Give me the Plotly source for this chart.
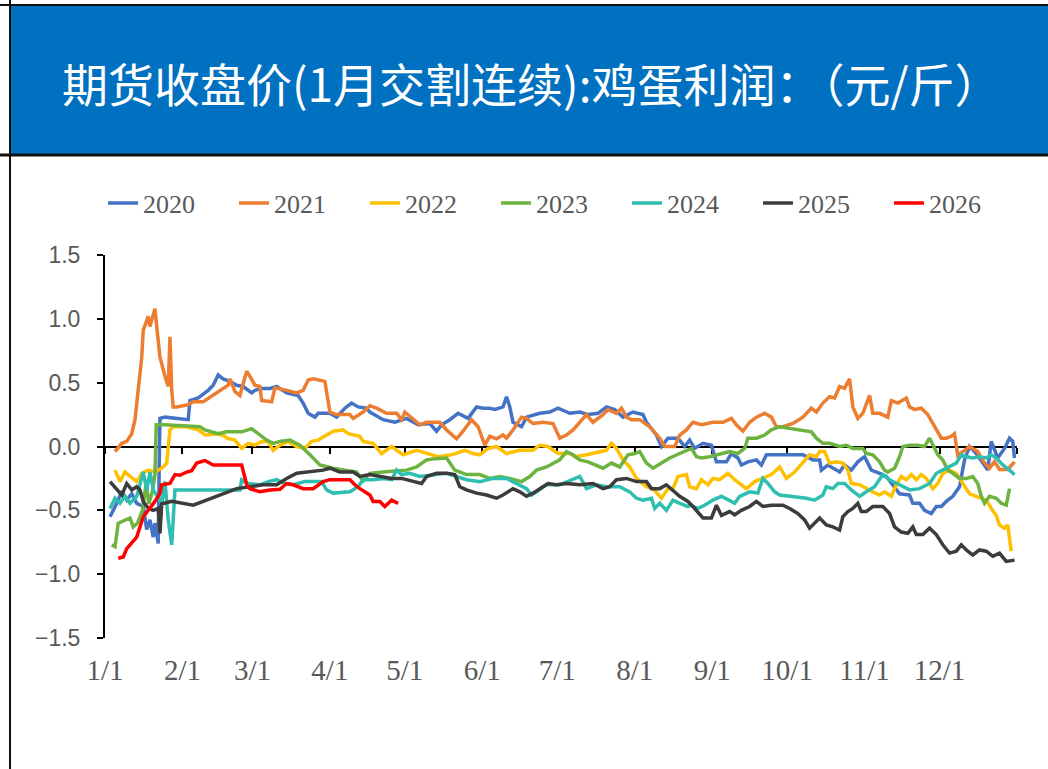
import plotly.graph_objects as go

# ---------------- data (day of year, profit 元/斤) ----------------
years = ["2020", "2021", "2022", "2023", "2024", "2025", "2026"]
colors = ["#4472C4", "#ED7D31", "#FFC000", "#6DB33F", "#2FBFB1", "#3C3C3C", "#FF0000"]

month_ticks = [0, 31, 59, 90, 120, 151, 181, 212, 243, 273, 304, 334]
month_labels = ["1/1", "2/1", "3/1", "4/1", "5/1", "6/1", "7/1", "8/1", "9/1", "10/1", "11/1", "12/1"]
y_ticks = [1.5, 1.0, 0.5, 0.0, -0.5, -1.0, -1.5]

s2020 = [(2,-0.55),(4.7,-0.445),(6.7,-0.35),(8.7,-0.42),(10.7,-0.37),(12.7,-0.445),(15.3,-0.47),(16.7,-0.65),
         (18,-0.575),(19.3,-0.71),(20,-0.60),(21.3,-0.76),(21.8,0.0),(22,0.22),(24,0.23),(33.3,0.21),(34,0.36),
         (37.3,0.38),(41.3,0.44),(43.3,0.48),(45.3,0.56),(47.3,0.53),(50,0.51),(52.7,0.48),(55.3,0.47),(58.7,0.42),
         (60,0.44),(62.7,0.455),(66,0.455),(68.7,0.47),(72.7,0.42),(77.3,0.40),(79.3,0.34),(81.3,0.26),(84,0.23),
         (85.3,0.26),(90,0.26),(92.7,0.23),(96,0.30),(98.7,0.34),(101.3,0.31),(104.7,0.30),(106,0.27),(111.3,0.21),
         (116,0.19),(120.7,0.22),(125.3,0.17),(130,0.18),(132.7,0.12),(134.7,0.17),(138,0.21),(141.3,0.26),
         (145.3,0.22),(148.7,0.31),(151.3,0.30),(154,0.30),(156,0.29),(159.3,0.31),(160.7,0.39),(162,0.31),
         (163.3,0.19),(166.7,0.155),(168.7,0.23),(174,0.26),(178,0.27),(181.3,0.30),(186,0.26),(190,0.27),
         (193.3,0.25),(197.3,0.26),(200.7,0.31),(204,0.29),(207.3,0.23),(211.3,0.27),(215.3,0.25),(216.7,0.19),
         (220.7,0.09),(222.7,0.0),(225.3,0.065),(229.3,0.065),(232,0.0),(234,0.05),(236,-0.015),(239.3,0.025),
         (242.7,0.01),(244.7,-0.12),(248.7,-0.12),(250.7,-0.055),(253.3,-0.09),(254.7,-0.145),(257.3,-0.12),
         (260.7,-0.105),(262.7,-0.145),(264.7,-0.065),(268,-0.065),(272.7,-0.065),(279.3,-0.065),(283.3,-0.105),
         (286,-0.105),(286.7,-0.185),(289.3,-0.145),(294,-0.20),(296,-0.145),(298.7,-0.185),(301.3,-0.12),
         (304,-0.08),(306.7,-0.185),(310,-0.21),(312.7,-0.235),(315.3,-0.30),(318,-0.37),(322,-0.38),(323.3,-0.445),
         (326,-0.445),(328,-0.50),(330.7,-0.525),(332.7,-0.47),(334.7,-0.47),(336.7,-0.43),(339.3,-0.39),
         (342,-0.315),(344,-0.105),(346,0.0),(348.7,-0.055),(353.3,-0.185),(354.7,0.04),(357.3,-0.09),
         (360,-0.015),(362,0.065),(363.3,0.04),(364,-0.09)]

s2021 = [(4,-0.04),(6.7,0.025),(8.7,0.04),(10.7,0.10),(12,0.21),(13.3,0.44),(14.7,0.70),(15.3,0.91),(17.3,1.02),
         (18,0.94),(19.3,1.04),(20,1.08),(20.7,0.94),(22,0.70),(24,0.55),(25.3,0.47),(26,0.86),(26.7,0.44),
         (27.3,0.31),(28.7,0.31),(32.7,0.325),(35.3,0.35),(39.3,0.35),(44.7,0.42),(49.3,0.48),(50,0.53),(52,0.43),
         (54,0.40),(55.3,0.50),(56.7,0.59),(58,0.55),(60,0.48),(62,0.47),(62.7,0.36),(66.7,0.35),(68,0.46),
         (72.7,0.44),(76.7,0.42),(79.3,0.44),(81.3,0.52),(83.3,0.53),(88,0.51),(90,0.27),(92.7,0.25),(98,0.25),
         (99.3,0.22),(103.3,0.27),(106,0.32),(108.7,0.30),(112.7,0.26),(116.7,0.26),(118.7,0.21),(120,0.27),
         (126,0.17),(128.7,0.19),(134,0.19),(136.7,0.13),(140.7,0.06),(143.3,0.12),(146.7,0.21),(149.3,0.155),
         (152,0.01),(154,0.08),(156.7,0.06),(159.3,0.09),(160.7,0.065),(163.3,0.13),(166.7,0.23),(168.7,0.22),
         (171.3,0.18),(175.3,0.19),(179.3,0.18),(182,0.065),(184.7,0.09),(187.3,0.13),(190,0.19),(192.7,0.25),
         (195.3,0.19),(199.3,0.25),(201.3,0.29),(204.7,0.26),(206.7,0.30),(208.7,0.23),(210.7,0.21),(214,0.21),
         (218,0.155),(222,0.065),(224,0.0),(228,0.0),(230,0.09),(232.7,0.13),(235.3,0.19),(238.7,0.17),
         (243.3,0.19),(247.3,0.19),(250.7,0.22),(252.7,0.17),(255.3,0.12),(258,0.19),(260.7,0.23),(264,0.26),
         (266.7,0.23),(268.7,0.155),(271.3,0.155),(275.3,0.18),(279.3,0.23),(282.7,0.30),(284.7,0.27),(287.3,0.34),
         (290,0.39),(292,0.38),(294,0.47),(296,0.455),(298,0.53),(299.3,0.31),(301.3,0.22),(303.3,0.26),(306,0.40),
         (307.3,0.26),(310,0.26),(313.3,0.23),(314.7,0.36),(317.3,0.34),(320.7,0.38),(322,0.31),(324,0.29),
         (326.7,0.30),(329.3,0.25),(332,0.155),(334.7,0.065),(336.7,0.065),(338.7,0.08),(340,0.10),(341.3,-0.07),
         (343.3,-0.04),(346,0.0),(349.3,-0.04),(351.3,-0.11),(354,-0.17),(356,-0.12),(358,-0.18),(361.3,-0.18),
         (364,-0.12)]

s2022 = [(4,-0.185),(6,-0.275),(8,-0.20),(10,-0.235),(12.7,-0.275),(14.7,-0.21),(17.3,-0.185),(20,-0.20),
         (22.7,-0.17),(24.7,-0.13),(26,0.13),(27.3,0.155),(32.7,0.155),(37.3,0.13),(40,0.09),(45.3,0.10),(48,0.08),
         (48.7,0.065),(52,0.05),(54.7,-0.015),(57.3,0.025),(60,0.01),(62.7,0.04),(65.3,0.04),(67.3,-0.03),(70,0.01),
         (73.3,0.04),(76.7,0.0),(80,-0.015),(82.7,0.04),(85.3,0.05),(88.7,0.09),(91.3,0.12),(95.3,0.13),(97.3,0.10),
         (102,0.08),(103.3,0.04),(107.3,0.025),(110.7,-0.055),(114.7,0.0),(119.3,-0.065),(124.7,-0.03),
         (128.7,-0.055),(133.3,-0.08),(138.7,-0.065),(144,-0.03),(147.3,-0.055),(150,-0.065),(153.3,-0.015),
         (156.7,0.0),(160.7,-0.055),(166,-0.03),(171.3,-0.03),(174,0.01),(177.3,0.0),(181.3,-0.055),(186,-0.055),
         (188,-0.08),(192.7,-0.065),(198,-0.04),(200.7,-0.03),(202.7,0.025),(204.7,-0.015),(207.3,-0.105),
         (210,-0.16),(212.7,-0.25),(216.7,-0.315),(219.3,-0.33),(222.7,-0.405),(225.3,-0.33),(227.3,-0.33),
         (229.3,-0.235),(232.7,-0.22),(234,-0.315),(236.7,-0.33),(238.7,-0.26),(241.3,-0.30),(243.3,-0.25),
         (246,-0.26),(249.3,-0.21),(252,-0.26),(254.7,-0.30),(256.7,-0.33),(260,-0.275),(263.3,-0.25),
         (266.7,-0.22),(270,-0.16),(272.7,-0.25),(276,-0.20),(279.3,-0.13),(282,-0.065),(284.7,-0.08),(286,-0.04),
         (288,-0.04),(290,-0.13),(292.7,-0.12),(295.3,-0.13),(297.3,-0.185),(298.7,-0.29),(302,-0.30),
         (304.7,-0.33),(307.3,-0.355),(310,-0.38),(312,-0.355),(314.7,-0.39),(316.7,-0.30),(318.7,-0.235),
         (320.7,-0.26),(322.7,-0.22),(324.7,-0.26),(326.7,-0.22),(328.7,-0.25),(331.3,-0.33),(333.3,-0.29),
         (335.3,-0.21),(338,-0.185),(340.7,-0.21),(343.3,-0.29),(346,-0.37),(348.7,-0.39),(350.7,-0.405),
         (352.7,-0.42),(354.7,-0.485),(356.7,-0.54),(358,-0.615),(360,-0.64),(361.3,-0.615),(362.7,-0.82)]

s2023 = [(2.7,-0.77),(4,-0.785),(5.3,-0.60),(8,-0.575),(10,-0.56),(11.3,-0.63),(13,-0.60),(15,-0.50),
         (16.5,-0.28),(17.5,-0.45),(19,-0.35),(20,-0.22),(20.5,0.17),(24,0.17),(38,0.155),(40,0.13),(45.3,0.10),
         (48.7,0.115),(54.7,0.115),(58.7,0.14),(62,0.09),(64.7,0.05),(67.3,0.025),(70,0.04),(74,0.05),(78,0.01),
         (82,-0.065),(86,-0.145),(91.3,-0.17),(96.7,-0.185),(100.7,-0.20),(103.3,-0.27),(106,-0.21),
         (111.3,-0.20),(120.7,-0.185),(124.7,-0.16),(128.7,-0.105),(132,-0.095),(136.7,-0.09),(140,-0.185),
         (144.7,-0.22),(150,-0.22),(154,-0.25),(158,-0.235),(162,-0.25),(166.7,-0.275),(170,-0.235),
         (172.7,-0.185),(176.7,-0.16),(182,-0.105),(184.7,-0.04),(187.3,-0.065),(190,-0.105),(193.3,-0.12),
         (196.7,-0.145),(199.3,-0.17),(202.7,-0.13),(206,-0.16),(209.3,-0.065),(212,-0.055),(214,-0.04),
         (216.7,-0.13),(219.3,-0.17),(222.7,-0.13),(226,-0.09),(230,-0.055),(233.3,-0.03),(234.7,-0.015),
         (236.7,-0.08),(238.7,-0.09),(242,-0.08),(245.3,-0.065),(250,-0.04),(253.3,-0.055),(256,-0.015),
         (257.3,0.065),(260.7,0.065),(264,0.09),(266.7,0.13),(270,0.155),(275.3,0.14),(279.3,0.13),(282.7,0.115),
         (284.7,0.065),(287.3,0.025),(290,0.025),(294,0.0),(296.7,0.01),(299.3,-0.015),(303.3,-0.015),
         (304.7,-0.055),(307.3,-0.065),(310,-0.12),(312,-0.185),(313.3,-0.20),(316,-0.17),(318,-0.08),(319.3,0.0),
         (322,0.01),(325.3,0.01),(328,0.0),(330,0.065),(332,-0.015),(333.3,-0.065),(335.3,-0.105),(337.3,-0.185),
         (339.3,-0.21),(342,-0.25),(344.7,-0.25),(347.3,-0.235),(349.3,-0.29),(350.7,-0.39),(352,-0.445),
         (354,-0.39),(356.7,-0.405),(358.7,-0.445),(360.7,-0.46),(361.3,-0.39),(362,-0.33)]

s2024 = [(2,-0.485),(4,-0.405),(6,-0.445),(8,-0.39),(10,-0.445),(12.7,-0.39),(15.3,-0.20),(16.7,-0.34),(18,-0.20),
         (19.3,-0.34),(22.7,-0.445),(24,-0.275),(25.3,-0.575),(26.7,-0.77),(28,-0.34),(32.7,-0.34),(42,-0.34),
         (54,-0.34),(54.7,-0.26),(57.3,-0.29),(62,-0.30),(65.3,-0.275),(68.7,-0.26),(72,-0.29),(75.3,-0.30),
         (80,-0.275),(86.7,-0.275),(88.7,-0.34),(91.3,-0.365),(98,-0.355),(101.3,-0.315),(103.3,-0.26),
         (107.3,-0.26),(111.3,-0.25),(114.7,-0.26),(116.7,-0.185),(118.7,-0.22),(122,-0.21),(126,-0.235),
         (131.3,-0.22),(136.7,-0.21),(140.7,-0.235),(144.7,-0.26),(150,-0.275),(155.3,-0.25),(160.7,-0.25),
         (164.7,-0.29),(168.7,-0.33),(170.7,-0.38),(174,-0.34),(176.7,-0.30),(182,-0.30),(187.3,-0.26),
         (190,-0.235),(192.7,-0.33),(196.7,-0.30),(200.7,-0.315),(206,-0.315),(210,-0.355),(212.7,-0.405),
         (215.3,-0.42),(218.7,-0.405),(220,-0.485),(222,-0.445),(224.7,-0.50),(227.3,-0.42),(230,-0.445),
         (233.3,-0.47),(234,-0.46),(237.3,-0.485),(240,-0.46),(243.3,-0.42),(246.7,-0.39),(249.3,-0.42),
         (252,-0.445),(254,-0.39),(258,-0.355),(261.3,-0.365),(263.3,-0.25),(265.3,-0.29),(268,-0.355),
         (270,-0.38),(275.3,-0.39),(280.7,-0.405),(284,-0.42),(287.3,-0.38),(288.7,-0.315),(291.3,-0.33),
         (293.3,-0.29),(296,-0.29),(298.7,-0.34),(302,-0.39),(304.7,-0.355),(308,-0.315),(311.3,-0.22),
         (314,-0.26),(318,-0.30),(322,-0.34),(326,-0.33),(330,-0.29),(332.7,-0.21),(335.3,-0.185),(338,-0.16),
         (340.7,-0.13),(342.7,-0.065),(344.7,-0.08),(347.3,-0.09),(350,-0.08),(352.7,-0.09),(354.7,-0.065),
         (356.7,-0.09),(359.3,-0.145),(362,-0.185),(364,-0.22)]

s2025 = [(2,-0.275),(4.7,-0.34),(6.7,-0.38),(8.7,-0.29),(10.7,-0.34),(12.7,-0.315),(14,-0.34),(15.3,-0.43),
         (17.3,-0.485),(19.3,-0.50),(21.3,-0.485),(22,-0.68),(22.7,-0.45),(26.7,-0.43),(35.3,-0.46),(39.3,-0.43),
         (44.7,-0.39),(48.7,-0.355),(52.7,-0.33),(58,-0.315),(63.3,-0.30),(68.7,-0.30),(72.7,-0.25),(76.7,-0.21),
         (82,-0.20),(87.3,-0.185),(90,-0.17),(94,-0.20),(99.3,-0.20),(102,-0.235),(106,-0.22),(110,-0.235),
         (114.7,-0.25),(118.7,-0.25),(120.7,-0.26),(124,-0.275),(126.7,-0.29),(128.7,-0.235),(132.7,-0.21),
         (136.7,-0.21),(140,-0.22),(142,-0.315),(144.7,-0.34),(148.7,-0.365),(152.7,-0.38),(156.7,-0.405),
         (159.3,-0.38),(163.3,-0.33),(166,-0.355),(168.7,-0.39),(171.3,-0.365),(175.3,-0.315),(177.3,-0.29),
         (180.7,-0.30),(184.7,-0.29),(190,-0.30),(195.3,-0.29),(199.3,-0.33),(202,-0.315),(204.7,-0.26),
         (208.7,-0.25),(212.7,-0.275),(216.7,-0.275),(218.7,-0.33),(222,-0.33),(224.7,-0.30),(227.3,-0.34),
         (230,-0.39),(233.3,-0.43),(235.3,-0.47),(239.3,-0.56),(242.7,-0.56),(244.7,-0.46),(246.7,-0.54),
         (250,-0.51),(252,-0.535),(254.7,-0.50),(258,-0.47),(260.7,-0.43),(263.3,-0.47),(266.7,-0.46),
         (271.3,-0.46),(274,-0.485),(277.3,-0.525),(280,-0.575),(282,-0.64),(284,-0.60),(286,-0.56),
         (288.7,-0.615),(291.3,-0.63),(294,-0.655),(295.3,-0.55),(297.3,-0.51),(299.3,-0.485),(301.3,-0.445),
         (302.7,-0.51),(304.7,-0.51),(307.3,-0.47),(311.3,-0.47),(314,-0.525),(316,-0.63),(318.7,-0.67),
         (321.3,-0.68),(323.3,-0.63),(324.7,-0.69),(327.3,-0.69),(330,-0.64),(332.7,-0.69),(335.3,-0.77),
         (338,-0.835),(340.7,-0.82),(342.7,-0.77),(344.7,-0.81),(347.3,-0.85),(350,-0.81),(352.7,-0.82),
         (355.3,-0.86),(358,-0.835),(360.7,-0.90),(362.7,-0.89),(364,-0.89)]

s2026 = [(5.3,-0.875),(7.3,-0.865),(8.7,-0.80),(12.7,-0.71),(15.3,-0.55),(18,-0.48),(20,-0.43),(22,-0.365),
         (22.7,-0.30),(26,-0.29),(28,-0.22),(30,-0.225),(32.7,-0.20),(34.7,-0.19),(36.7,-0.13),(40,-0.11),
         (43.3,-0.145),(54.7,-0.145),(56.7,-0.30),(58,-0.33),(62,-0.355),(66,-0.34),(70,-0.335),(72.7,-0.29),
         (75.3,-0.30),(79.3,-0.33),(83.3,-0.33),(87.3,-0.275),(90,-0.26),(98,-0.26),(100,-0.30),(102,-0.33),
         (104,-0.355),(106,-0.38),(107.3,-0.43),(110,-0.43),(112,-0.47),(114.7,-0.42),(117.3,-0.445)]

series = [s2020, s2021, s2022, s2023, s2024, s2025, s2026]

# ---------------- layout geometry (pixels) ----------------
W, H = 1048, 769
L, R, T, B = 105, 31, 255, 131
PW, PH = W - L - R, H - T - B


def px(x):
    return (x - L) / PW


def py(y):
    return (H - B - y) / PH


fig = go.Figure()
for name, col, s in zip(years, colors, series):
    fig.add_trace(go.Scatter(
        x=[p[0] for p in s], y=[p[1] for p in s], name=name, mode="lines",
        line=dict(color=col, width=3.5), xaxis="x", yaxis="y"))

# invisible trace to activate the zero-line axis
fig.add_trace(go.Scatter(x=[0, 365], y=[0, 0], mode="lines", line=dict(width=0),
                         showlegend=False, hoverinfo="skip", xaxis="x2", yaxis="y"))

shapes = [
    dict(type="rect", xref="paper", yref="paper", x0=px(10), x1=px(W), y0=py(155), y1=py(6),
         fillcolor="#0070C0", line=dict(width=0), layer="below"),
    dict(type="line", xref="paper", yref="paper", x0=px(0), x1=px(W), y0=py(5), y1=py(5),
         line=dict(color="#111111", width=2)),
    dict(type="line", xref="paper", yref="paper", x0=px(0), x1=px(W), y0=py(155), y1=py(155),
         line=dict(color="#111111", width=3)),
    dict(type="line", xref="paper", yref="paper", x0=px(10), x1=px(10), y0=py(0), y1=py(H),
         line=dict(color="#111111", width=2)),
]

fig.update_layout(
    width=W, height=H,
    margin=dict(l=L, r=R, t=T, b=B, pad=0),
    paper_bgcolor="white", plot_bgcolor="white",
    shapes=shapes,
    annotations=[dict(text="期货收盘价(1月交割连续):鸡蛋利润：（元/斤）", xref="paper", yref="paper",
                      x=px(531), y=py(82), xanchor="center", yanchor="middle", showarrow=False,
                      font=dict(family="Noto Sans CJK SC", size=46, color="white"))],
    showlegend=True,
    legend=dict(orientation="h", x=px(103), y=py(203), xanchor="left", yanchor="middle",
                font=dict(family="Liberation Serif, DejaVu Serif, serif", size=26, color="#595959"),
                entrywidth=86, entrywidthmode="pixels",
                bgcolor="rgba(0,0,0,0)", traceorder="normal"),
    xaxis=dict(range=[0, 365], tickmode="array", tickvals=month_ticks, ticktext=month_labels,
               showline=False, showgrid=False, zeroline=False, ticks="", ticklabelstandoff=12,
               tickfont=dict(family="Liberation Serif, DejaVu Serif, serif", size=29, color="#595959"),
               fixedrange=True),
    xaxis2=dict(range=[0, 365], overlaying="x", anchor="free", position=0.5, side="bottom",
                showline=True, linecolor="black", linewidth=2, ticks="outside", ticklen=6, tickwidth=2,
                tickcolor="black", tickmode="array", tickvals=month_ticks + [365], showticklabels=False,
                showgrid=False, zeroline=False, layer="below traces"),
    yaxis=dict(range=[-1.5, 1.5], tickmode="array", tickvals=y_ticks, tickformat=".1f",
               showline=True, linecolor="black", linewidth=2, ticks="outside", ticklen=6, tickwidth=2,
               tickcolor="black", showgrid=False, zeroline=False, ticklabelstandoff=12,
               tickfont=dict(family="Liberation Sans, Arial, sans-serif", size=23, color="#595959")),
)

fig.write_html("out.html", config={"displayModeBar": False},
               post_script="document.body.style.margin='0';document.body.style.overflow='hidden';")
